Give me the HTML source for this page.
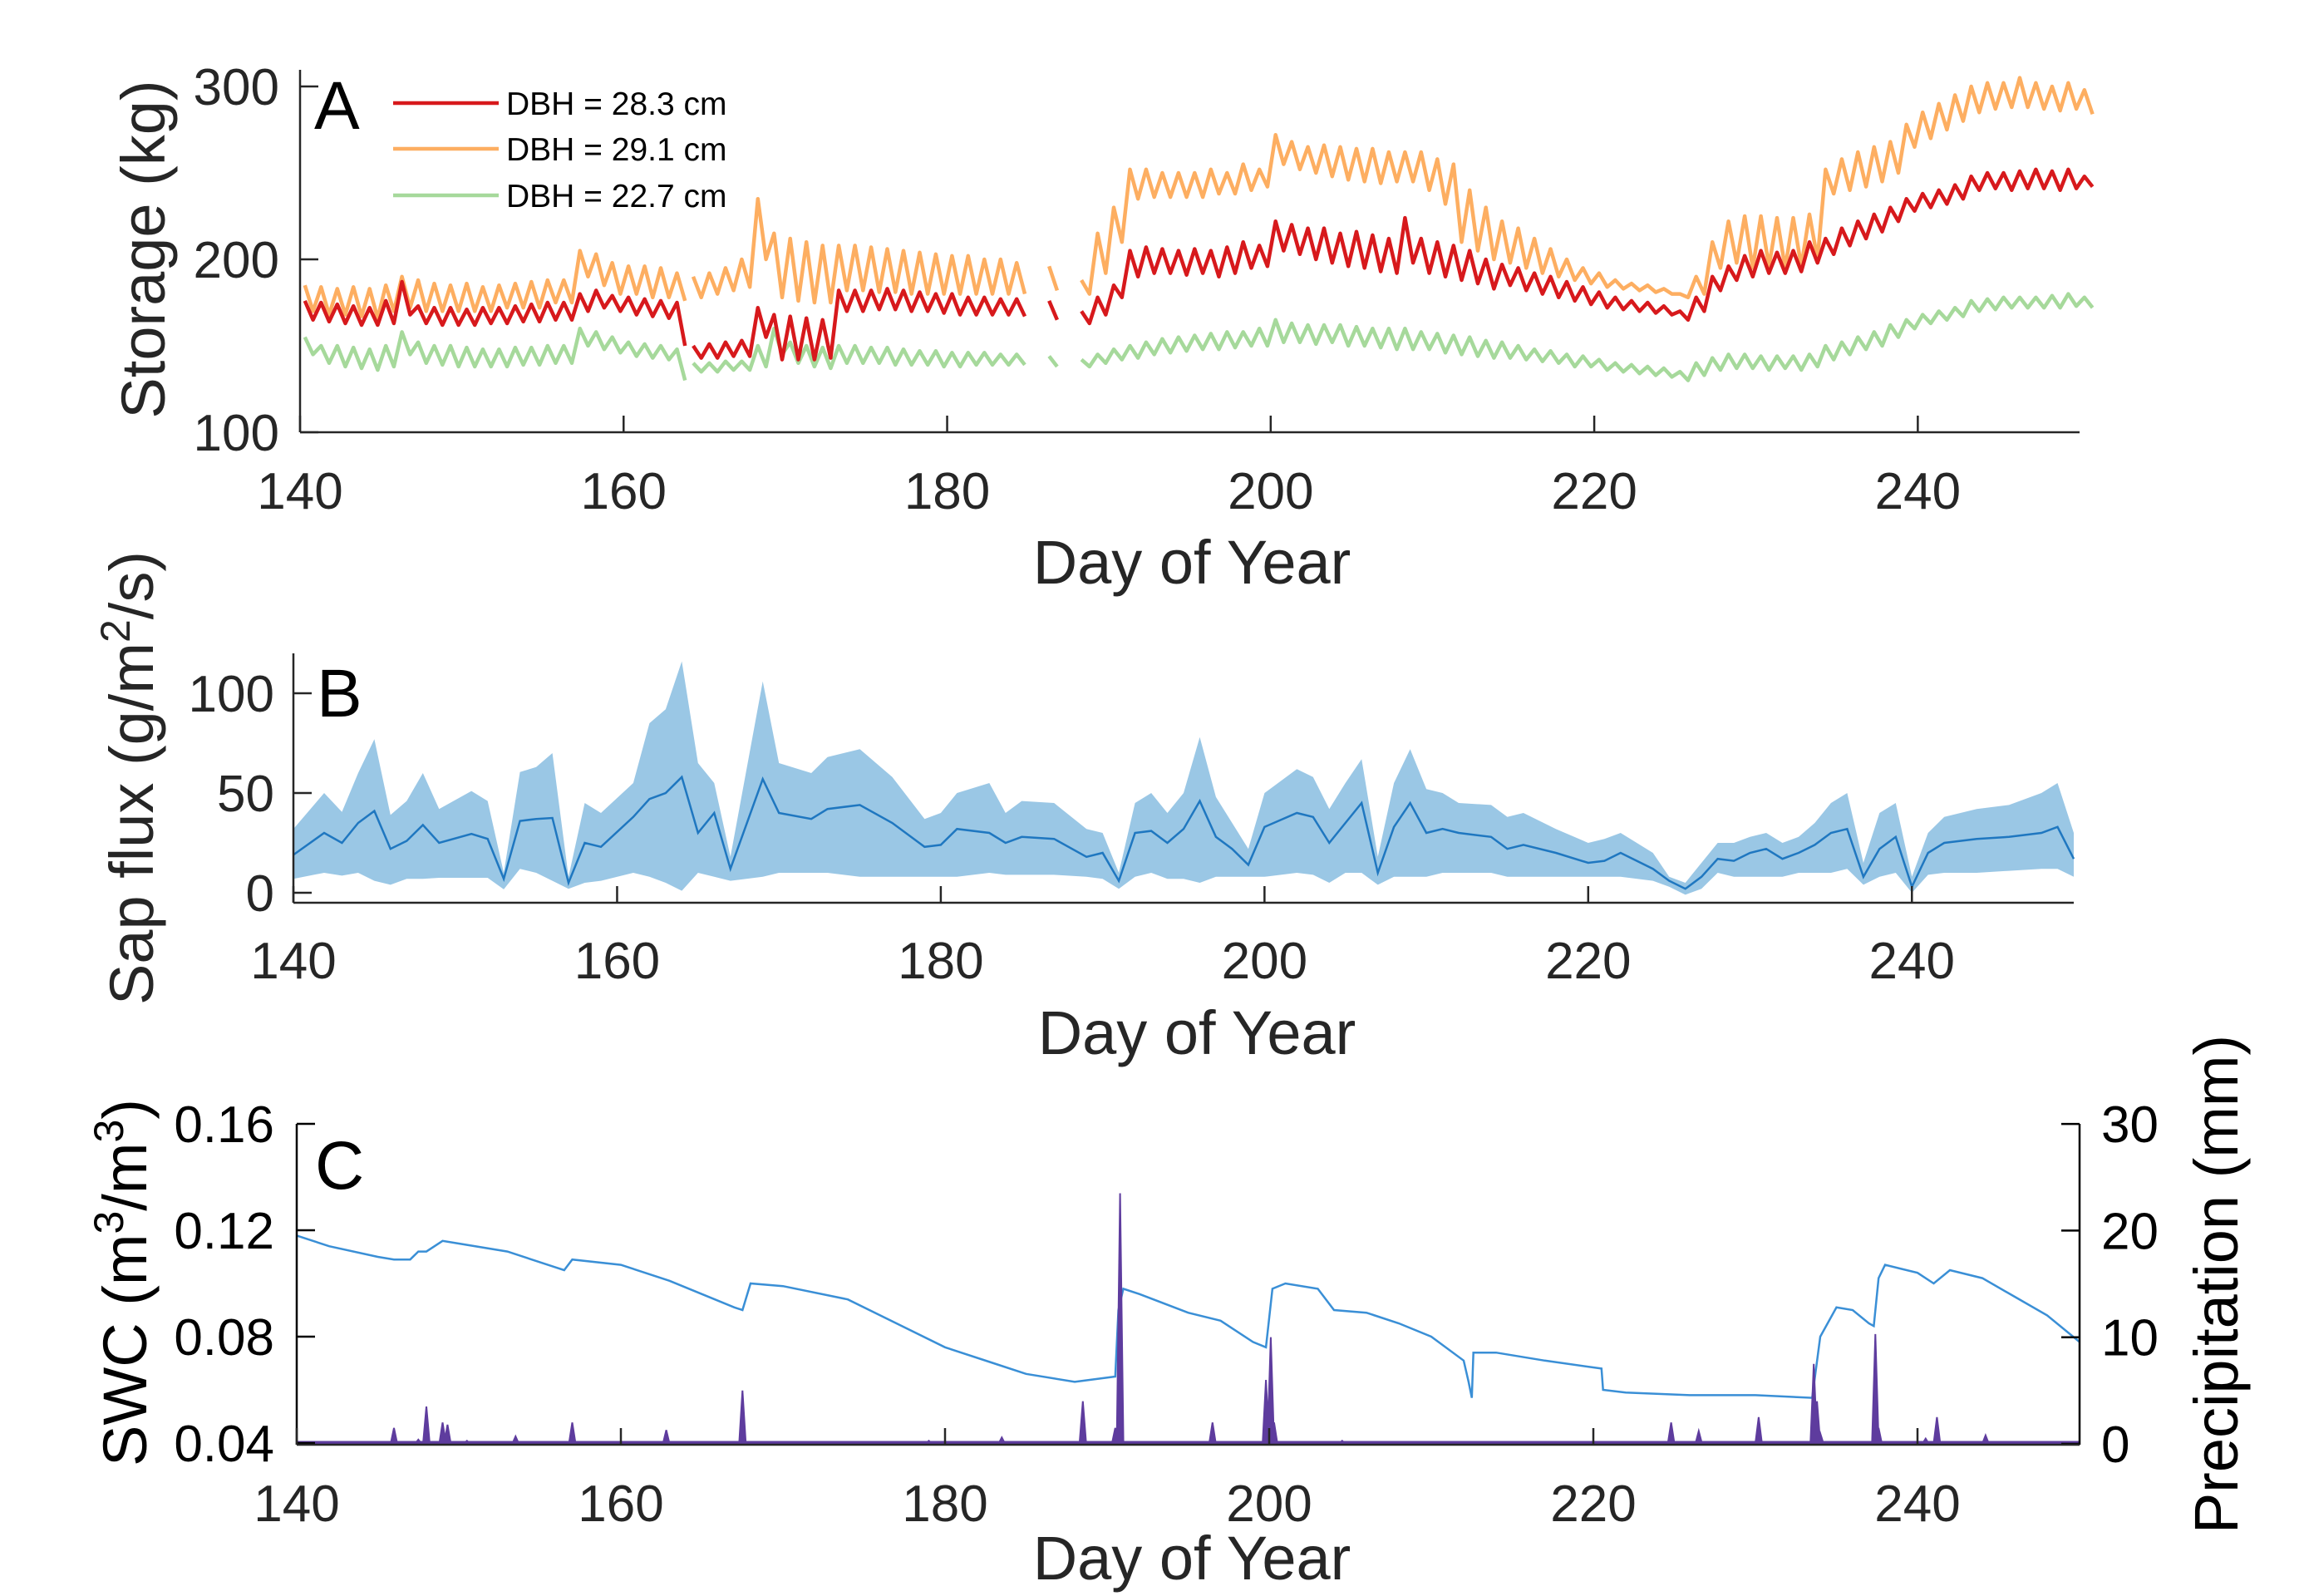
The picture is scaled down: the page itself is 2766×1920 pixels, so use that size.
<!DOCTYPE html>
<html><head><meta charset="utf-8">
<style>
html,body{margin:0;padding:0;background:#fff;}
svg{display:block;font-family:"Liberation Sans",Arial,sans-serif;}
</style></head>
<body>
<svg id="fig" width="2766" height="1920" viewBox="0 0 2766 1920" xmlns="http://www.w3.org/2000/svg">
<rect width="2766" height="1920" fill="#fff"/>
<g id="pA"></g>
<g id="pB"></g>
<g id="pC"></g>
</svg>
<script>
// ---- Panel A data (daily high / low storage, kg), days 140..250 ----
const daysA = Array.from({length:111},(_, i)=>140+i);
const redHi = [176,175,174,173,172,176,187,173,172,172,171,172,172,173,174,175,175,180,182,179,178,177,176,175,150,151,152,153,172,168,167,166,165,182,182,182,183,182,181,180,180,178,178,177,177,null,176,null,170,178,185,205,207,206,205,206,205,207,210,208,222,220,218,218,215,216,214,212,224,212,210,208,205,200,197,195,192,190,187,184,181,178,176,175,173,170,178,190,196,202,205,204,205,210,212,218,222,226,230,235,238,240,243,248,250,250,251,252,251,252,248];
const redLo = [165,164,163,162,162,163,168,163,162,162,162,163,163,164,164,165,165,170,172,170,168,167,166,150,143,143,144,144,155,142,142,142,143,170,170,171,171,170,170,169,168,168,168,168,167,null,165,null,163,168,178,190,192,192,191,192,190,192,195,196,205,203,200,198,196,195,193,192,198,192,190,188,186,183,185,182,180,178,176,174,172,171,170,169,168,165,170,182,188,190,192,192,193,198,203,208,212,216,222,228,230,232,235,240,241,240,241,241,240,241,242];
const orHi = [185,184,183,184,183,185,190,188,186,185,186,184,185,186,187,188,188,205,203,198,196,196,195,192,190,192,195,200,235,215,212,210,208,208,208,207,206,205,204,203,202,202,200,200,198,null,196,null,188,215,230,252,252,250,250,250,252,250,255,252,272,268,265,266,265,264,264,262,262,262,258,255,240,230,222,218,212,206,200,195,192,188,186,185,183,180,190,210,222,225,225,224,224,226,252,258,262,265,268,278,285,290,295,300,302,302,305,302,300,302,298];
const orLo = [170,168,168,167,166,170,172,170,170,170,170,170,172,172,172,175,175,190,185,180,180,178,178,176,178,180,182,184,200,178,176,175,175,182,182,181,181,180,180,180,180,180,180,180,180,null,182,null,180,192,210,235,236,236,236,236,238,238,240,242,255,252,250,248,246,245,244,245,245,240,232,210,205,200,198,195,192,190,188,186,184,183,182,181,180,178,180,195,198,195,196,195,196,200,238,240,242,245,250,265,270,275,280,285,287,288,288,287,286,287,284];
const grHi = [155,150,150,149,148,150,158,152,150,150,149,148,148,149,149,150,150,160,158,155,152,151,150,148,140,140,141,141,150,160,152,150,149,150,150,149,149,148,147,147,146,146,146,145,145,null,144,null,142,145,148,150,152,154,155,156,157,158,158,160,165,163,162,162,162,161,160,160,160,158,157,156,155,153,152,150,148,147,145,144,142,140,139,138,137,135,140,143,145,145,144,144,144,145,150,152,155,158,162,165,168,170,172,176,177,178,178,178,179,180,178];
const grLo = [145,140,138,137,136,138,145,140,139,138,138,138,138,139,139,140,140,150,148,146,144,143,142,130,135,135,136,136,138,145,140,138,137,140,140,140,139,139,139,138,138,139,139,139,139,null,138,null,138,140,142,143,145,146,147,148,148,149,150,150,152,152,151,152,150,150,149,148,148,148,146,145,144,143,143,142,141,140,138,138,136,135,134,133,132,130,133,136,137,137,136,137,136,138,142,145,148,150,155,160,163,165,167,170,171,172,172,172,172,173,172];
const gapAfterDaysA = [163];
const seriesNamesA = ["DBH = 28.3 cm","DBH = 29.1 cm","DBH = 22.7 cm"];
const xTicks = [140,160,180,200,220,240];
const yTicksA = [100,200,300];

// ---- Panel B data (sap flux, g/m2/s) ----
const daysB = [140,141.9,143,144,145,146,147,148,149,151,152,153,154,155,156,157,158,159,161,162,163,164,165,166,167,169,170,172,173,175,177,179,180,181,183,184,185,187,189,190,191,192,193,194,195,196,197,198,199,200,202,203,204,205,206,207,208,209,210,211,212,214,215,216,218,220,221,222,224,225,226,227,228,229,230,231,232,233,234,235,236,237,238,239,240,241,242,244,246,248,249,250];
const sapMean = [19,30,25,35,41,22,26,34,25,29.5,27,7,36,37,37.5,5,25,23,38,47,50,58,30,40,12,57,40,37,42,44,35,23,24,32,30,25,28,27,18,20,6,30,31,25,32,46,28,22,14,33,40,38,25,35,45,10,33,45,30,32,30,28,22,24,20,15,16,20,12,6,2,8,17,16,20,22,17,20,24,30,32,8,22,28,3,20,25,27,28,30,33,17];
const sapLo = [7,10,8.6,10,6,4,7,7,7.5,7.5,7.5,1.7,12,10,6,2,5,6,10,8,5,1,10,8,6,8,10,10,10,8,8,8,8,8,10,9,9,9,8,7,2,8,10,7,7,5,8,8,8,8,10,9,5,10,10,4,8,8,8,10,10,10,8,8,8,8,8,8,6,3,-1,2,10,8,8,8,8,10,10,10,12,4,8,10,0,9,10,10,11,12,12,8];
const sapHi = [32,50,40.5,60,77,39,46,60,42,51,46,10,60.5,63,70,8,45,40,55,85,92,116,65,55,18,106,65,60,68,72,58,37,40,50,55,40,46,45,32,30,10,45,50,40,50,78,48,35,22,50,62,58,42,55,67,18,55,72,52,50,45,44,38,40,32,25,27,30,20,8,5,15,25,25,28,30,25,28,35,45,50,15,40,45,8,30,38,42,44,50,55,30];
const yTicksB = [0,50,100];

// ---- Panel C data ----
const swcDays = [140,142,145,146,147,147.5,148,149,150,153,156,156.5,157,160,163,165,167,167.5,168,170,174,177,180,183,185,188,190.5,190.7,191,192,195,197,199,199.8,200.2,201,203,204,206,208,210,212,212.3,212.5,212.6,214,217,220.5,220.6,222,226,230,233.5,234,235,236,237,237.3,237.6,238,240,241,242,244,246,248,250];
const swcVals = [0.118,0.114,0.110,0.109,0.109,0.112,0.112,0.116,0.115,0.112,0.106,0.105,0.109,0.107,0.101,0.096,0.091,0.090,0.100,0.099,0.094,0.085,0.076,0.070,0.066,0.063,0.065,0.090,0.098,0.096,0.089,0.086,0.078,0.076,0.098,0.100,0.098,0.090,0.089,0.085,0.080,0.071,0.063,0.057,0.074,0.074,0.071,0.068,0.060,0.059,0.058,0.058,0.057,0.080,0.091,0.090,0.085,0.084,0.102,0.107,0.104,0.100,0.105,0.102,0.095,0.088,0.078];
const rainDays = [146,147.5,148,149,149.3,150.5,153.5,157,162.8,167.5,179,183.5,188.5,190.5,190.8,196.5,199.8,200.1,200.3,204.5,224.8,226.5,230.2,233.6,233.8,234,237.4,237.6,240.5,241.2,244.2];
const rainVals = [1.5,0.4,3.5,2,1.8,0.3,0.7,2,1.3,5,0.3,0.6,4,1.5,23.5,2,6,10,2,0.3,2,1.2,2.5,7.5,4,1,10.3,1.5,0.5,2.5,0.8];
const yTicksC = [0.04,0.08,0.12,0.16];
const yTicksC2 = [0,10,20,30];

const NS = "http://www.w3.org/2000/svg";
function mk(parent, tag, attrs){ const e=document.createElementNS(NS,tag); for(const k in attrs) e.setAttribute(k,attrs[k]); parent.appendChild(e); return e; }
function txt(parent, s, attrs){ const e=mk(parent,'text',attrs); e.textContent=s; return e; }
const AX="#262626";

const xA = d => 361 + (d-140)*(2502-361)/110;
const yA = v => 520 - (v-100)*2.08;
const xB = d => 353 + (d-140)*(2495-353)/110;
const yB = v => 1074 - v*2.4;
const xC = d => 357 + (d-140)*(2502-357)/110;
const yC = v => 1736 - (v-0.04)*3200;
const yC2 = p => 1737 - p*12.83;

function xAxis(g, xf, y0, x0, x1, tickUp, labY, name){
  const ax = mk(g,'line',{x1:x0,y1:y0,x2:x1,y2:y0,stroke:AX,'stroke-width':2.5});
  
  
  xTicks.forEach(t=>{
    const tk = mk(g,'line',{x1:xf(t),y1:y0,x2:xf(t),y2:y0-tickUp,stroke:AX,'stroke-width':2.5});
    
    
    const lb = txt(g,String(t),{x:xf(t),y:labY,'font-size':62,'text-anchor':'middle',fill:AX});
    
    
  });
}
function pathFrom(xs, ys, xf, yf){
  let d='', pen=false;
  for(let i=0;i<xs.length;i++){
    if(ys[i]===null){pen=false;continue;}
    d += (pen?'L':'M') + xf(xs[i]).toFixed(1)+','+yf(ys[i]).toFixed(1);
    pen=true;
  }
  return d;
}

// ================= Panel A =================
(function(){
  const g=document.getElementById('pA');
  const cols=["#d7191c","#fdae61","#a6d99b"];
  const his=[redHi,orHi,grHi], los=[redLo,orLo,grLo];
  const names=["storage-line-dbh-28-3","storage-line-dbh-29-1","storage-line-dbh-22-7"];
  [2,1,0].forEach(s=>{
    const xs=[], ys=[];
    daysA.forEach((d,i)=>{
      xs.push(d+0.3); ys.push(his[s][i]);
      xs.push(d+0.8); ys.push(los[s][i]);
      if(gapAfterDaysA.includes(d)){ xs.push(d+0.9); ys.push(null); }
    });
    const p = mk(g,'path',{d:pathFrom(xs,ys,xA,yA),fill:'none',stroke:cols[s],'stroke-width':4.5,'stroke-linejoin':'round'});
    
    
  });
  const ya = mk(g,'line',{x1:361,y1:84,x2:361,y2:520,stroke:AX,'stroke-width':2.5});
  
  
  yTicksA.forEach(t=>{
    const tk=mk(g,'line',{x1:361,y1:yA(t),x2:383,y2:yA(t),stroke:AX,'stroke-width':2.5});
    
    
    const lb=txt(g,String(t),{x:336,y:yA(t)+22,'font-size':62,'text-anchor':'end',fill:AX});
    
    
  });
  xAxis(g,xA,520,361,2502,20,612,'panel-a');
  const xt=txt(g,'Day of Year',{x:1434,y:702,'font-size':74,'text-anchor':'middle',fill:AX});
  
  
  const yt=txt(g,'Storage (kg)',{x:0,y:0,'font-size':74,'text-anchor':'middle',fill:AX,transform:'translate(198,300) rotate(-90)'});
  
  
  const L=txt(g,'A',{x:378,y:155,'font-size':82,fill:'#000'});
  
  
  const ly=[124,179,235];
  seriesNamesA.forEach((n,i)=>{
    const le=mk(g,'g',{});
    
    
    mk(le,'line',{x1:473,y1:ly[i],x2:600,y2:ly[i],stroke:cols[i],'stroke-width':4.5});
    txt(le,n,{x:609,y:ly[i]+14,'font-size':39,fill:'#000'});
  });
})();

// ================= Panel B =================
(function(){
  const g=document.getElementById('pB');
  let d='';
  daysB.forEach((x,i)=>{ d += (i?'L':'M')+xB(x).toFixed(1)+','+yB(sapHi[i]).toFixed(1); });
  for(let i=daysB.length-1;i>=0;i--) d += 'L'+xB(daysB[i]).toFixed(1)+','+yB(sapLo[i]).toFixed(1);
  d+='Z';
  const band=mk(g,'path',{d:d,fill:'#9ac7e5',stroke:'none'});
  
  
  const ln=mk(g,'path',{d:pathFrom(daysB,sapMean,xB,yB),fill:'none',stroke:'#1f77c0','stroke-width':2.5});
  
  
  const ya=mk(g,'line',{x1:353,y1:786,x2:353,y2:1086,stroke:AX,'stroke-width':2.5});
  
  
  yTicksB.forEach(t=>{
    const tk=mk(g,'line',{x1:353,y1:yB(t),x2:375,y2:yB(t),stroke:AX,'stroke-width':2.5});
    
    
    const lb=txt(g,String(t),{x:330,y:yB(t)+22,'font-size':62,'text-anchor':'end',fill:AX});
    
    
  });
  xAxis(g,xB,1086,353,2495,20,1177,'panel-b');
  const xt=txt(g,'Day of Year',{x:1440,y:1268,'font-size':74,'text-anchor':'middle',fill:AX});
  
  
  const yt=mk(g,'text',{x:0,y:0,'font-size':74,'text-anchor':'middle',fill:AX,transform:'translate(184,936) rotate(-90)'});
  yt.innerHTML='Sap flux (g/m<tspan dy="-28" font-size="50">2</tspan><tspan dy="28">/s)</tspan>';
  
  
  const L=txt(g,'B',{x:381,y:862,'font-size':82,fill:'#000'});
  
  
})();

// ================= Panel C =================
(function(){
  const g=document.getElementById('pC');
  const ln=mk(g,'path',{d:pathFrom(swcDays,swcVals,xC,yC),fill:'none',stroke:'#3a8fd6','stroke-width':2.5});
  
  
  rainDays.forEach((d,i)=>{
    const x=xC(d), y=yC2(rainVals[i]);
    const b=mk(g,'path',{d:`M${(x-4).toFixed(1)},1737L${x.toFixed(1)},${y.toFixed(1)}L${(x+4).toFixed(1)},1737Z`,fill:'#5e3c9e',stroke:'#5e3c9e','stroke-width':2});
    
    
  });
  const base=mk(g,'line',{x1:357,y1:1736,x2:2502,y2:1736,stroke:'#5e3c9e','stroke-width':5});
  
  
  const ya=mk(g,'line',{x1:357,y1:1352,x2:357,y2:1738,stroke:'#000','stroke-width':2.5});
  
  
  const yr=mk(g,'line',{x1:2502,y1:1352,x2:2502,y2:1738,stroke:'#000','stroke-width':2.5});
  
  
  yTicksC.forEach(t=>{
    const tk=mk(g,'line',{x1:357,y1:yC(t),x2:379,y2:yC(t),stroke:'#000','stroke-width':2.5});
    
    
    const lb=txt(g,t.toFixed(2),{x:330,y:yC(t)+22,'font-size':62,'text-anchor':'end',fill:'#000'});
    
    
  });
  yTicksC2.forEach(t=>{
    const tk=mk(g,'line',{x1:2480,y1:yC2(t),x2:2502,y2:yC2(t),stroke:'#000','stroke-width':2.5});
    
    
    const lb=txt(g,String(t),{x:2528,y:yC2(t)+22,'font-size':62,'text-anchor':'start',fill:'#000'});
    
    
  });
  xAxis(g,xC,1738,357,2502,20,1830,'panel-c');
  const xt=txt(g,'Day of Year',{x:1434,y:1900,'font-size':74,'text-anchor':'middle',fill:AX});
  
  
  const yt=mk(g,'text',{x:0,y:0,'font-size':74,'text-anchor':'middle',fill:'#000',transform:'translate(176,1543) rotate(-90)'});
  yt.innerHTML='SWC (m<tspan dy="-28" font-size="50">3</tspan><tspan dy="28">/m</tspan><tspan dy="-28" font-size="50">3</tspan><tspan dy="28">)</tspan>';
  
  
  const yt2=txt(g,'Precipitation (mm)',{x:0,y:0,'font-size':74,'text-anchor':'middle',fill:'#000',transform:'translate(2692,1545) rotate(-90)'});
  
  
  const L=txt(g,'C',{x:379,y:1430,'font-size':82,fill:'#000'});
  
  
})();
</script>
</body></html>
